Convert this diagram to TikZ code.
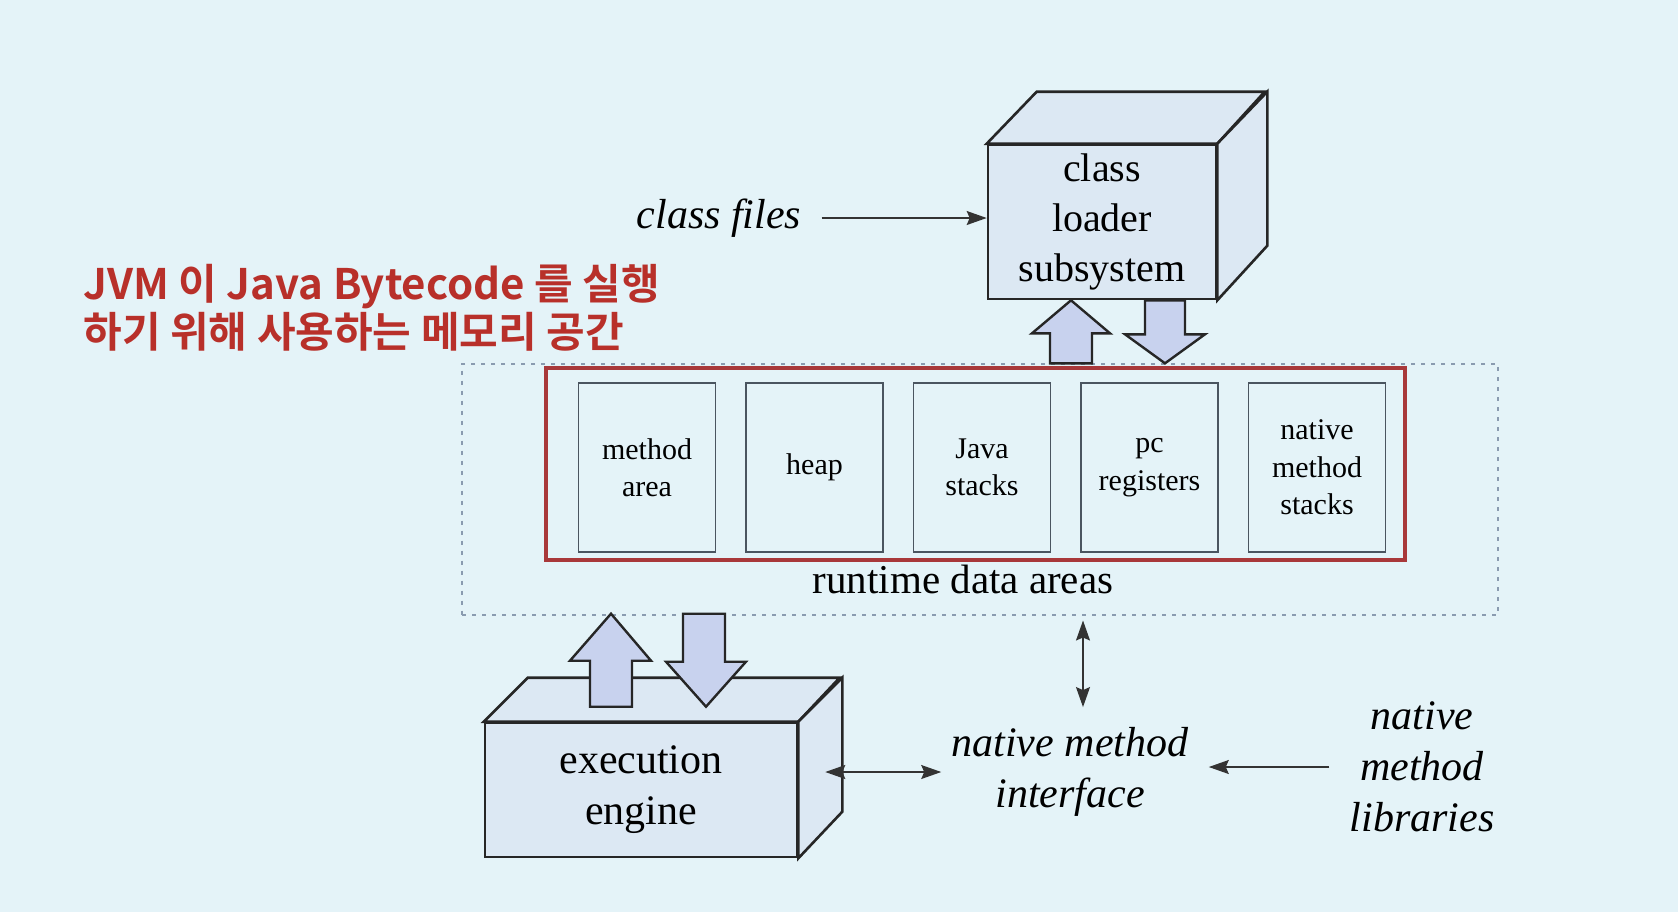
\documentclass[tikz,border=0pt]{standalone}
\usepackage{fontspec}
\setmainfont{Liberation Serif}
\newfontfamily\krfont{Noto Sans CJK KR}[BoldFont={Noto Sans CJK KR Bold}]
\usetikzlibrary{arrows.meta}
\usetikzlibrary{calc}
\definecolor{bgcol}{HTML}{E4F3F8}
\definecolor{facecol}{HTML}{DCE8F3}
\definecolor{arrowcol}{HTML}{C8D2EE}
\definecolor{boxred}{HTML}{A8383A}
\definecolor{notered}{HTML}{B8302A}
\definecolor{dotcol}{HTML}{8A9BB0}
\definecolor{areaedge}{HTML}{4A5560}
\tikzset{
    block/.style={
        draw=black!85,
        line width=1.3pt,
        fill=facecol,
        align=center},
    area/.style={
        draw=areaedge,
        line width=0.9pt,
        minimum width=68.5pt,
        minimum height=84.5pt,
        align=center,
        font=\fontsize{15}{18.7}\selectfont},
    rdinner/.style={
        draw=boxred,
        line width=1.8pt,
        minimum width=429.5pt,
        minimum height=96pt},
    rdouter/.style={
        draw=dotcol,
        line width=1pt,
        dash pattern=on 2pt off 3pt,
        minimum width=518pt,
        minimum height=125.5pt},
    fatarrow/.style={
        draw=black!85,
        line width=1.2pt,
        fill=arrowcol,
        line join=miter},
    italbl/.style={
        align=center,
        inner sep=10pt,
        font=\itshape\fontsize{21}{25.5}\selectfont},
    krnote/.style={
        align=left,
        inner sep=0pt,
        text=notered,
        font=\krfont\bfseries\fontsize{21}{24}\selectfont},
    conn/.style={
        draw=black!80,
        line width=0.7pt,
        -{Stealth[length=10pt,width=7pt,inset=1.5pt]}},
    conn2/.style={
        draw=black!80,
        line width=0.7pt,
        {Stealth[length=10pt,width=7pt,inset=1.5pt]}-{Stealth[length=10pt,width=7pt,inset=1.5pt]}}}

\begin{document}
\begin{tikzpicture}[x=0.5pt,y=-0.5pt]
        \fill[bgcol] (0,0) rectangle (1678,912);

        % runtime data areas
        \node[rdouter] (rdo) at (980,489) {};
        \node[rdinner] (rda) at (975.5,464) {};
        \node[area] (ma) at (647,467.5) {method\\area};
        \node[area] (hp) at (814.5,467.5) {heap};
        \node[area] (js) at (982,467.5) {Java\\stacks};
        \node[area] (pc) at (1149.5,467.5) {pc\\registers};
        \node[area] (nms) at (1317,467.5) {native\\method\\stacks};
        \node[font=\fontsize{20.5}{24}\selectfont] (rdl) at (963,579) {runtime data areas};

        % class loader subsystem
        \node[block,minimum width=114pt,minimum height=77pt,font=\fontsize{20}{25}\selectfont] (cls) at (1102,222) {class\\loader\\subsystem};
        \draw[block] (cls.north west) -- ++(50,-52) -- ++(228,0) -- (cls.north east) -- cycle;
        \draw[block] (cls.north east) -- ++(50,-52) -- ++(0,154) -- (cls.south east) -- cycle;

        % execution engine
        \node[block,minimum width=156pt,minimum height=67pt,font=\fontsize{21}{25.5}\selectfont] (ee) at (641,790) {execution\\engine};
        \draw[block] (ee.north west) -- ++(44,-44) -- ++(312,0) -- (ee.north east) -- cycle;
        \draw[block] (ee.north east) -- ++(44,-44) -- ++(0,134) -- (ee.south east) -- cycle;

        % fat arrows
        \draw[fatarrow] ($(cls.south)+(-31,0)$) -- ++(39,33) -- ++(-18,0) -- ++(0,30) -- ++(-42,0) -- ++(0,-30) -- ++(-18,0) -- cycle;
        \draw[fatarrow] ($(cls.south)+(43,0)$) -- ++(0,34) -- ++(-20,0) -- ++(40,29) -- ++(40,-29) -- ++(-20,0) -- ++(0,-34) -- cycle;
        \draw[fatarrow] ($(ee.north)+(-51,-15)$) -- ++(0,-46) -- ++(-20,0) -- ++(41,-47) -- ++(40,47) -- ++(-19,0) -- ++(0,46) -- cycle;
        \draw[fatarrow] ($(ee.north)+(42,-108)$) -- ++(0,48) -- ++(-17,0) -- ++(40,45) -- ++(40,-45) -- ++(-21,0) -- ++(0,-48) -- cycle;

        % outside labels
        \node[italbl] (cf) at (719,218) {class files};
        \node[italbl] (nmi) at (1070,772) {native method\\interface};
        \node[italbl] (nml) at (1422,767) {native\\method\\libraries};
        \node[krnote,anchor=west] (note) at (83,308) {JVM 이 Java Bytecode 를 실행\\하기 위해 사용하는 메모리 공간};

        \draw[conn] (cf.east) -- (cf.east -| cls.west);
        \draw[conn] (nml.west) -- (nml.west -| nmi.east);
        \path (nmi.west -| ee.east) ++(27,0) coordinate (eeside);
        \draw[conn2,shorten >=-5pt] (eeside) -- (nmi.west);
        \coordinate (vx) at (1083,0);
        \draw[conn2,shorten <=2.5pt] (rdo.south -| vx) -- (nmi.north -| vx);
\end{tikzpicture}
\end{document}
